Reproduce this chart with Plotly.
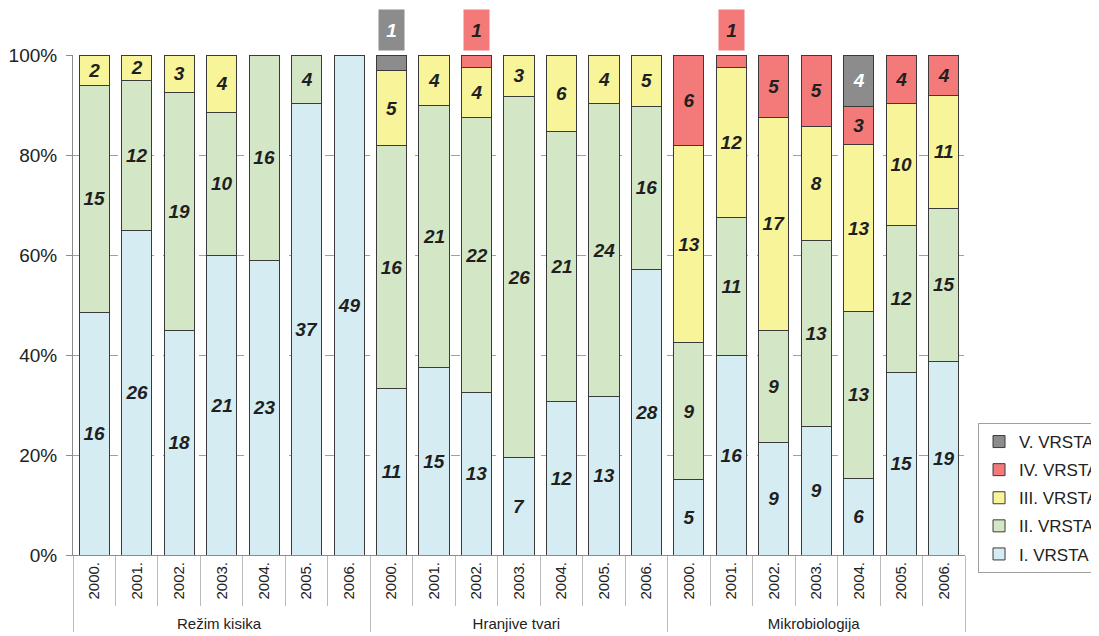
import plotly.graph_objects as go

groups = ["Režim kisika"] * 7 + ["Hranjive tvari"] * 7 + ["Mikrobiologija"] * 7
years = ["2000.", "2001.", "2002.", "2003.", "2004.", "2005.", "2006."] * 3

vrsta_I = [16, 26, 18, 21, 23, 37, 49, 11, 15, 13, 7, 12, 13, 28, 5, 16, 9, 9, 6, 15, 19]
vrsta_II = [15, 12, 19, 10, 16, 4, None, 16, 21, 22, 26, 21, 24, 16, 9, 11, 9, 13, 13, 12, 15]
vrsta_III = [2, 2, 3, 4, None, None, None, 5, 4, 4, 3, 6, 4, 5, 13, 12, 17, 8, 13, 10, 11]
vrsta_IV = [None] * 7 + [None, None, 1, None, None, None, None] + [6, 1, 5, 5, 3, 4, 4]
vrsta_V = [None] * 7 + [1, None, None, None, None, None, None] + [None, None, None, None, 4, None, None]

series = [
    ("I. VRSTA", vrsta_I, "#D5ECF3", "#1f1f1f"),
    ("II. VRSTA", vrsta_II, "#D3E6C6", "#1f1f1f"),
    ("III. VRSTA", vrsta_III, "#F7F49A", "#1f1f1f"),
    ("IV. VRSTA", vrsta_IV, "#F47A7A", "#1f1f1f"),
    ("V. VRSTA", vrsta_V, "#8C8C8C", "#ffffff"),
]

FONT = "Liberation Sans, Arial, sans-serif"

fig = go.Figure()
annotations = []
for k, (name, vals, color, tcolor) in enumerate(series):
    texts = []
    for i, v in enumerate(vals):
        if v is None:
            texts.append("")
        elif v == 1:
            texts.append("")
            annotations.append(dict(
                x=i, y=1.05, xref="x", yref="paper", text="<b><i>1</i></b>",
                showarrow=False, bgcolor=color, width=23, height=38,
                font=dict(family=FONT, size=19, color=tcolor),
                xanchor="center", yanchor="middle",
            ))
        else:
            texts.append(f"<b><i>{v}</i></b>")
    fig.add_trace(go.Bar(
        name=name, x=[groups, years], y=vals, text=texts,
        texttemplate="%{text}", textposition="inside", insidetextanchor="middle",
        textangle=0, constraintext="none",
        textfont=dict(family=FONT, size=19, color=tcolor),
        marker=dict(color=color, line=dict(color="#3a3a3a", width=1)),
        legendgroup=name, legendrank=1000 - k,
        hoverinfo="skip",
    ))

fig.update_layout(
    barmode="stack", barnorm="percent", bargap=0.29,
    width=1091, height=628,
    margin=dict(l=65, r=134, t=47, b=81, autoexpand=False),
    plot_bgcolor="white", paper_bgcolor="white",
    font=dict(family=FONT, size=15, color="#222222"),
    annotations=annotations,
    showlegend=True,
    legend=dict(
        x=1.0146, y=0.264, xanchor="left", yanchor="top",
        traceorder="grouped", bordercolor="#a0a0a0", borderwidth=1,
        font=dict(family=FONT, size=17, color="#222222"),
        itemwidth=30, tracegroupgap=3,
    ),
)
fig.update_yaxes(
    range=[0, 100], dtick=20, ticksuffix="%",
    showline=True, linecolor="#8c8c8c", linewidth=1,
    ticks="outside", ticklen=6, tickcolor="#8c8c8c", ticklabelstandoff=5,
    showgrid=True, gridcolor="#a0a0a0", griddash="dash", gridwidth=1,
    tickfont=dict(family=FONT, size=19, color="#222222"),
    zeroline=False, automargin=False,
)
fig.update_xaxes(
    type="multicategory", tickangle=-90,
    showline=True, linecolor="#8c8c8c",
    ticks="outside", tickson="boundaries", ticklen=50, tickcolor="#bbbbbb",
    showdividers=True, dividercolor="#bbbbbb", dividerwidth=1,
    tickfont=dict(family=FONT, size=15, color="#222222"),
    automargin=False,
)

fig.write_html("out.html")
